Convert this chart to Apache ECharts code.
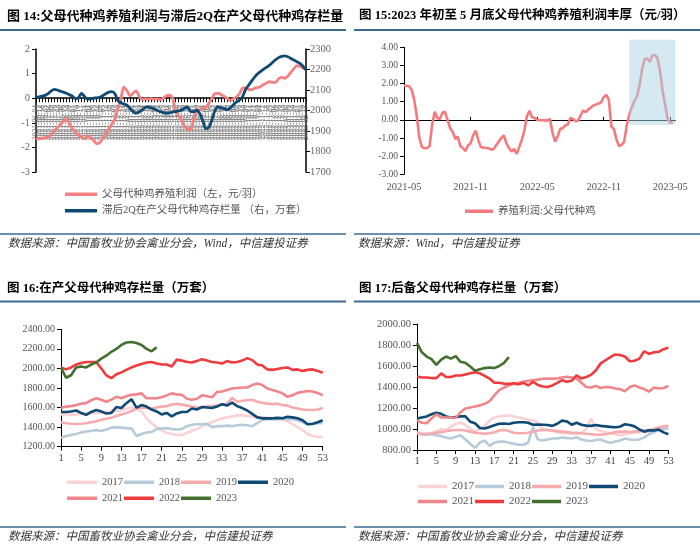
<!DOCTYPE html>
<html><head><meta charset="utf-8">
<script src="https://cdn.jsdelivr.net/npm/echarts/dist/echarts.min.js"></script>
<style>html,body{margin:0;padding:0;background:#fff}#c{width:700px;height:547px}</style>
</head><body><div id="c"></div>
<script>
// ---------- Chart 14 ----------
const c14Profit = [-1.65,-1.65,-1.63,-1.6,-1.58,-1.45,-1.33,-1.2,-1.08,-0.95,
 -0.83,-1.05,-1.25,-1.38,-1.5,-1.58,-1.64,-1.53,-1.6,-1.72,
 -1.85,-1.8,-1.63,-1.46,-1.25,-1.05,-0.84,-0.42,0.0,0.45,
 0.3,0.1,0.2,0.3,0.08,-0.05,-0.03,-0.04,-0.02,-0.05,
 -0.03,-0.06,0.0,0.1,0.12,0.0,-0.5,-0.7,-0.9,-1.15,
 -1.25,-1.28,-0.85,-0.56,-0.45,-0.4,-0.37,-0.2,0.0,0.19,
 0.2,0.15,0.07,0.0,-0.08,-0.03,0.05,0.17,0.4,0.43,
 0.36,0.35,0.4,0.43,0.47,0.55,0.62,0.67,0.64,0.64,
 0.8,0.85,0.81,0.9,1.05,1.2,1.32,1.3,1.22,1.2];
const c14Stock = [2065,2067,2070,2074,2082,2095,2103,2100,2094,2090,
 2084,2077,2070,2058,2062,2084,2068,2055,2058,2060,
 2062,2064,2072,2082,2090,2092,2082,2048,2037,2032,
 2026,2010,1995,1987,1993,2003,2015,2018,2012,2008,
 2000,1994,1990,1986,1988,1992,1995,1998,2002,2012,
 2015,1995,1994,2002,1985,1950,1912,1918,1955,2000,
 2018,2013,2009,2004,2012,2027,2041,2050,2065,2100,
 2122,2142,2162,2178,2190,2201,2211,2221,2235,2248,
 2258,2264,2266,2262,2254,2246,2238,2230,2216,2198];
const c14Start = '2021-06-04';
// ---------- Chart 15 ----------
const c15Profit = [1.88,1.88,1.85,1.65,1.1,0.2,-1.0,-1.5,-1.56,-1.55,
 -1.45,-0.25,0.45,0.1,0.05,0.4,0.45,0.0,-0.46,-0.65,
 -1.05,-0.92,-1.45,-1.55,-1.72,-1.4,-1.3,-0.85,-0.6,-1.1,
 -1.5,-1.53,-1.55,-1.55,-1.65,-1.6,-1.4,-1.2,-1.0,-0.85,
 -1.3,-1.55,-1.75,-1.6,-1.88,-1.5,-1.1,-0.6,0.2,0.5,
 0.15,0.1,0.0,-0.02,-0.02,-0.03,-0.04,0.05,-0.7,-1.2,
 -0.9,-0.5,-0.45,-0.3,-0.25,0.1,0.05,-0.08,-0.04,0.25,
 0.52,0.42,0.58,0.68,0.8,0.85,0.9,0.98,1.25,1.38,
 1.1,-0.37,-0.5,-1.1,-1.45,-1.38,-1.2,-0.3,0.3,0.68,
 1.05,1.28,1.9,2.8,3.35,3.38,3.2,3.55,3.58,3.4,
 2.7,1.6,0.8,0.05,-0.18,-0.12];
const c15Start = '2021-05-07';
const c15Weeks = 107;
const c15Highlight = [88, 106, 4.42, -0.28];
// ---------- Chart 16 ----------
const weeks = ['1','2','3','4','5','6','7','8','9','10','11','12','13','14','15','16','17','18','19','20','21','22','23','24','25','26','27','28','29','30','31','32','33','34','35','36','37','38','39','40','41','42','43','44','45','46','47','48','49','50','51','52','53'];
const years = ['2017','2018','2019','2020','2021','2022','2023'];
const c16_2017 = [1530,1530,1525,1530,1540,1545,1540,1545,1550,1555,1560,1565,1575,1590,1600,1590,1560,1490,1440,1400,1370,1340,1330,1320,1320,1340,1360,1380,1410,1430,1450,1470,1490,1500,1510,1520,1520,1515,1510,1500,1500,1495,1490,1490,1480,1460,1430,1400,1370,1330,1310,1300,1300];
const c16_2018 = [1290,1310,1320,1330,1345,1355,1360,1370,1360,1375,1395,1400,1395,1390,1385,1310,1330,1345,1350,1380,1385,1390,1380,1375,1380,1410,1425,1430,1430,1435,1400,1410,1410,1415,1410,1420,1425,1420,1410,1440,1475,1480,1480,1480,1485,1480,1480,1470,1450,1430,1430,1440,1440];
const c16_2019 = [1450,1440,1435,1432,1435,1440,1450,1460,1475,1485,1495,1515,1530,1545,1565,1590,1600,1595,1590,1600,1610,1615,1630,1640,1630,1620,1610,1600,1605,1610,1615,1620,1630,1640,1700,1660,1670,1675,1680,1660,1650,1640,1635,1640,1625,1620,1600,1590,1580,1575,1575,1580,1595];
const c16_2020 = [1555,1555,1560,1570,1545,1525,1555,1575,1560,1540,1545,1605,1595,1645,1685,1600,1625,1610,1580,1560,1530,1545,1510,1540,1555,1555,1590,1580,1605,1600,1595,1610,1635,1620,1650,1615,1595,1570,1535,1500,1490,1490,1490,1495,1490,1505,1500,1490,1470,1430,1435,1450,1470];
const c16_2021 = [1595,1610,1615,1625,1640,1645,1675,1695,1680,1660,1680,1710,1695,1715,1730,1735,1745,1695,1695,1695,1705,1725,1745,1735,1730,1690,1680,1690,1725,1715,1705,1760,1765,1780,1795,1800,1805,1805,1830,1845,1830,1795,1780,1765,1745,1710,1725,1750,1760,1770,1765,1750,1725];
const c16_2022 = [2010,1990,2010,2040,2055,2065,2065,2065,2000,1930,1900,1940,1960,1985,2010,2030,2045,2060,2065,2050,2040,2040,2020,2090,2080,2065,2060,2075,2095,2080,2065,2060,2050,2075,2060,2065,2080,2105,2085,2040,2030,1990,1985,1995,2005,2010,1985,1990,1975,1985,1990,1975,1955];
const c16_2023 = [2010,1905,1930,2010,2020,2010,2040,2060,2100,2130,2170,2200,2240,2265,2270,2260,2240,2200,2175,2215];
// ---------- Chart 17 ----------
const c17_2017 = [970,960,950,960,980,1000,990,1020,1050,1060,1040,1000,980,1000,1030,1080,1110,1120,1125,1130,1120,1110,1100,1090,1080,1060,1000,990,980,970,960,960,955,950,960,1000,1100,1000,980,970,960,950,940,950,960,965,970,975,970,980,990,1000,1010];
const c17_2018 = [960,950,945,950,940,930,920,910,925,940,900,860,820,870,890,840,870,880,880,870,860,850,850,870,1020,900,890,900,910,910,920,915,910,920,900,890,885,895,900,880,870,880,890,910,900,895,900,920,950,970,990,1000,1005];
const c17_2019 = [960,950,955,960,965,970,980,985,990,990,985,975,965,960,955,960,970,985,990,980,965,960,960,965,975,985,990,990,985,980,975,970,965,965,960,955,950,945,945,950,960,970,975,975,970,975,980,985,990,1000,1015,1025,1030];
const c17_2020 = [1100,1110,1120,1140,1155,1145,1120,1110,1115,1120,1120,1070,1055,1010,1005,1020,1035,1050,1052,1048,1060,1065,1065,1060,1040,1042,1040,1038,1030,1050,1080,1072,1040,1060,1040,1032,1030,1038,1030,1025,1020,1016,1022,1045,1038,1025,995,975,988,985,995,968,950];
const c17_2021 = [1080,1060,1055,1100,1140,1110,1110,1110,1105,1160,1195,1205,1215,1225,1240,1265,1320,1370,1395,1415,1430,1440,1450,1460,1465,1470,1478,1480,1480,1482,1490,1498,1490,1480,1440,1400,1395,1410,1390,1400,1397,1385,1380,1360,1400,1415,1395,1380,1355,1395,1385,1390,1410];
const c17_2022 = [1500,1490,1490,1485,1485,1530,1495,1495,1510,1510,1520,1530,1540,1530,1505,1480,1440,1440,1430,1430,1435,1425,1440,1415,1450,1420,1405,1400,1415,1440,1465,1450,1460,1510,1480,1495,1515,1560,1625,1655,1685,1710,1705,1690,1645,1650,1670,1740,1715,1730,1735,1760,1775];
const c17_2023 = [1820,1730,1690,1665,1610,1660,1690,1670,1695,1640,1630,1595,1555,1570,1580,1585,1580,1600,1630,1685];

const yearColors = ['#FAD2D4','#B7CADA','#F5ABAD','#0E4A73','#F1868A','#F03B3D','#44702F'];

function weekly(start, n) {
  const out = []; const t0 = Date.parse(start + 'T00:00:00Z');
  for (let i = 0; i < n; i++) out.push(new Date(t0 + i * 7 * 864e5).toISOString().slice(0, 10));
  return out;
}
const c14Dates = weekly(c14Start, c14Profit.length);
const c15Dates = weekly(c15Start, c15Weeks);

const serif = "'Liberation Serif','Noto Sans CJK SC',serif";
const blk = {show: true, lineStyle: {color: '#000', width: 1}};
const lbl = (size, color) => ({fontFamily: serif, fontSize: size, color: color});

const chart = echarts.init(document.getElementById('c'), null, {renderer: 'canvas'});

const series = [];
series.push({name: '父母代种鸡养殖利润（左，元/羽）', type: 'line', xAxisIndex: 0, yAxisIndex: 0, data: c14Profit,
  symbol: 'none', smooth: 0.3, lineStyle: {color: '#F4807F', width: 2.8}, itemStyle: {color: '#F4807F'}});
series.push({name: '滞后2Q在产父母代种鸡存栏量 （右，万套）', type: 'line', xAxisIndex: 6, yAxisIndex: 1, data: c14Stock,
  symbol: 'none', smooth: 0.3, lineStyle: {color: '#0F4A73', width: 2.8}, itemStyle: {color: '#0F4A73'}});
series.push({name: '养殖利润:父母代种鸡', type: 'line', xAxisIndex: 1, yAxisIndex: 2, data: c15Profit,
  symbol: 'none', lineStyle: {color: '#F57A7E', width: 2.6}, itemStyle: {color: '#F57A7E'}});
const c16 = [c16_2017, c16_2018, c16_2019, c16_2020, c16_2021, c16_2022, c16_2023];
const c17 = [c17_2017, c17_2018, c17_2019, c17_2020, c17_2021, c17_2022, c17_2023];
years.forEach((y, i) => {
  series.push({name: y, type: 'line', xAxisIndex: 3, yAxisIndex: 3, data: c16[i], symbol: 'none',
    lineStyle: {color: yearColors[i], width: 2.6}, itemStyle: {color: yearColors[i]}});
});
years.forEach((y, i) => {
  series.push({name: y, type: 'line', xAxisIndex: 4, yAxisIndex: 4, data: c17[i], symbol: 'none',
    lineStyle: {color: yearColors[i], width: 2.6}, itemStyle: {color: yearColors[i]}});
});

const legendBase = {icon: 'rect', itemHeight: 3.5, textStyle: lbl(10.5, '#555'), selectedMode: false, padding: 0};
const lineG = (x1, y1, x2, y2, w) => ({type: 'line', silent: true, shape: {x1, y1, x2, y2}, style: {stroke: '#3A6A90', lineWidth: w}});
const titleStyle = (s) => ({fontSize: s, fontWeight: 'bold', fontFamily: serif, color: '#000'});
const srcStyle = {fontSize: 11.5, fontStyle: 'italic', fontWeight: 'normal', fontFamily: serif, color: '#333'};

const option = {
  animation: false,
  backgroundColor: '#fff',
  title: [
    {text: '图 14:父母代种鸡养殖利润与滞后2Q在产父母代种鸡存栏量', left: 7, top: 10, padding: 0, textStyle: titleStyle(13)},
    {text: '图 15:2023 年初至 5 月底父母代种鸡养殖利润丰厚（元/羽）', left: 359, top: 10, padding: 0, textStyle: titleStyle(12.5)},
    {text: '图 16:在产父母代种鸡存栏量（万套）', left: 7, top: 283, padding: 0, textStyle: titleStyle(12.5)},
    {text: '图 17:后备父母代种鸡存栏量（万套）', left: 359, top: 283, padding: 0, textStyle: titleStyle(12.5)},
    {text: '数据来源：中国畜牧业协会禽业分会，Wind，中信建投证券', left: 8, top: 238, padding: 0, textStyle: srcStyle},
    {text: '数据来源：Wind，中信建投证券', left: 358, top: 238, padding: 0, textStyle: srcStyle},
    {text: '数据来源：中国畜牧业协会禽业分会，中信建投证券', left: 8, top: 531, padding: 0, textStyle: srcStyle},
    {text: '数据来源：中国畜牧业协会禽业分会，中信建投证券', left: 358, top: 531, padding: 0, textStyle: srcStyle}
  ],
  graphic: [
    lineG(0, 30, 346, 30, 2), lineG(354, 30, 700, 30, 2),
    lineG(0, 234, 346, 234, 1.5), lineG(354, 234, 700, 234, 1.5),
    lineG(0, 301.5, 346, 301.5, 2), lineG(354, 301.5, 700, 301.5, 2),
    lineG(0, 527, 346, 527, 1.5), lineG(354, 527, 700, 527, 1.5)
  ],
  legend: [
    Object.assign({}, legendBase, {orient: 'vertical', left: 65, top: 189, itemWidth: 32, itemGap: 6, data: ['父母代种鸡养殖利润（左，元/羽）', '滞后2Q在产父母代种鸡存栏量 （右，万套）']}),
    Object.assign({}, legendBase, {left: 465, top: 206, itemWidth: 28, data: ['养殖利润:父母代种鸡']}),
    Object.assign({}, legendBase, {left: 67, top: 477, itemWidth: 30, itemGap: 1, textStyle: lbl(10.5, '#555'), data: ['2017','2018','2019','2020']}),
    Object.assign({}, legendBase, {left: 67, top: 493, itemWidth: 30, itemGap: 1, textStyle: lbl(10.5, '#555'), data: ['2021','2022','2023']}),
    Object.assign({}, legendBase, {left: 418, top: 481, itemWidth: 29, itemGap: 1, textStyle: lbl(11, '#555'), data: ['2017','2018','2019','2020']}),
    Object.assign({}, legendBase, {left: 418, top: 496, itemWidth: 29, itemGap: 1, textStyle: lbl(11, '#555'), data: ['2021','2022','2023']})
  ],
  grid: [
    {left: 36, top: 49, width: 270, height: 123, containLabel: false, outerBoundsMode: 'none'},
    {left: 404, top: 47.3, width: 271.4, height: 127, containLabel: false, outerBoundsMode: 'none'},
    {left: 61, top: 329.3, width: 261.7, height: 117.4, containLabel: false, outerBoundsMode: 'none'},
    {left: 417, top: 324, width: 251.4, height: 126, containLabel: false, outerBoundsMode: 'none'},
    {left: 36, top: 49, width: 270, height: 123, containLabel: false, outerBoundsMode: 'none'}
  ],
  xAxis: [
    // 0: chart 14 date labels (hang below the zero line)
    {gridIndex: 0, type: 'category', data: c14Dates, boundaryGap: false, position: 'bottom',
      axisLine: {show: false, onZero: false}, axisTick: {show: false},
      axisLabel: {show: true, interval: 0, rotate: 90, margin: -67, fontSize: 7.5, fontFamily: serif, color: '#707070', hideOverlap: false},
      splitLine: {show: false}},
    // 1: chart 15 labels
    {gridIndex: 1, type: 'category', data: c15Dates, boundaryGap: false, position: 'bottom',
      axisLine: {show: false, onZero: false}, axisTick: {show: false},
      axisLabel: {show: true, margin: 8, interval: (i) => i % 26 === 0, formatter: (v) => v.slice(0, 7), fontSize: 10.5, fontFamily: serif, color: '#555', hideOverlap: false},
      splitLine: {show: false}},
    // 2: chart 15 zero line
    {gridIndex: 1, type: 'category', data: c15Dates, boundaryGap: false, position: 'top',
      axisLine: {show: true, onZero: true, lineStyle: {color: '#000', width: 1}},
      axisTick: {show: true, interval: (i) => i % 26 === 0 && i > 0, length: 3, lineStyle: {color: '#000'}},
      axisLabel: {show: false}, splitLine: {show: false}},
    {gridIndex: 2, type: 'category', data: weeks, boundaryGap: false,
      axisLine: blk, axisTick: {show: true, interval: 3, length: 4, lineStyle: {color: '#000'}},
      axisLabel: {interval: 3, margin: 6, fontSize: 10.5, fontFamily: serif, color: '#444', hideOverlap: false},
      splitLine: {show: false}},
    {gridIndex: 3, type: 'category', data: weeks, boundaryGap: false,
      axisLine: blk, axisTick: {show: true, interval: 3, length: 4, lineStyle: {color: '#000'}},
      axisLabel: {interval: 3, margin: 6, fontSize: 10.5, fontFamily: serif, color: '#444', hideOverlap: false},
      splitLine: {show: false}},
    // 5: chart 14 zero line with dense ticks
    {gridIndex: 0, type: 'category', data: c14Dates, boundaryGap: false, position: 'top',
      axisLine: {show: true, onZero: true, lineStyle: {color: '#000', width: 1.5}},
      axisTick: {show: true, inside: true, interval: 0, length: 4, lineStyle: {color: '#000'}},
      axisLabel: {show: false}, splitLine: {show: false}},
    // 6: hidden axis for the right-hand scale of chart 14
    {gridIndex: 4, type: 'category', data: c14Dates, boundaryGap: false, show: false}
  ],
  yAxis: [
    {gridIndex: 0, type: 'value', min: -3, max: 2, interval: 1, position: 'left',
      axisLine: {show: true, onZero: false, lineStyle: {color: '#000', width: 1.5}}, axisTick: {show: true, length: 4, lineStyle: {color: '#000'}},
      axisLabel: {margin: 6, fontSize: 10.5, fontFamily: serif, color: '#666', formatter: (v) => String(v)}, splitLine: {show: false}},
    {gridIndex: 4, type: 'value', min: 1700, max: 2300, interval: 100, position: 'right',
      axisLine: {show: true, onZero: false, lineStyle: {color: '#000', width: 1.5}}, axisTick: {show: true, length: 4, lineStyle: {color: '#000'}},
      axisLabel: {margin: 4, fontSize: 10.5, fontFamily: serif, color: '#666', formatter: (v) => String(v)}, splitLine: {show: false}},
    {gridIndex: 1, type: 'value', min: -3, max: 4, interval: 1,
      axisLine: blk, axisTick: {show: true, length: 4, lineStyle: {color: '#000'}},
      axisLabel: {margin: 6, fontSize: 9.5, fontFamily: serif, color: '#555', formatter: (v) => v.toFixed(2)}, splitLine: {show: false}},
    {gridIndex: 2, type: 'value', min: 1200, max: 2400, interval: 200,
      axisLine: blk, axisTick: {show: true, length: 4, lineStyle: {color: '#000'}},
      axisLabel: {margin: 6, fontSize: 10, fontFamily: serif, color: '#555', formatter: (v) => v.toFixed(2)}, splitLine: {show: false}},
    {gridIndex: 3, type: 'value', min: 800, max: 2000, interval: 200,
      axisLine: blk, axisTick: {show: true, length: 4, lineStyle: {color: '#000'}},
      axisLabel: {margin: 6, fontSize: 10.5, fontFamily: serif, color: '#555', formatter: (v) => v.toFixed(2)}, splitLine: {show: false}}
  ],
  series: series
};
chart.setOption(option);

// Highlighted period in chart 15: corners placed through the chart's own scales
const p1 = chart.convertToPixel({xAxisIndex: 1, yAxisIndex: 2}, [c15Dates[c15Highlight[0]], c15Highlight[2]]);
const p2 = chart.convertToPixel({xAxisIndex: 1, yAxisIndex: 2}, [c15Dates[c15Highlight[1]], c15Highlight[3]]);
const g = option.graphic.slice();
g.push({type: 'rect', silent: true, z: 50, shape: {x: p1[0], y: p1[1], width: p2[0] - p1[0], height: p2[1] - p1[1]},
  style: {fill: 'rgba(170,212,228,0.5)'}});
chart.setOption({graphic: g});
</script></body></html>
